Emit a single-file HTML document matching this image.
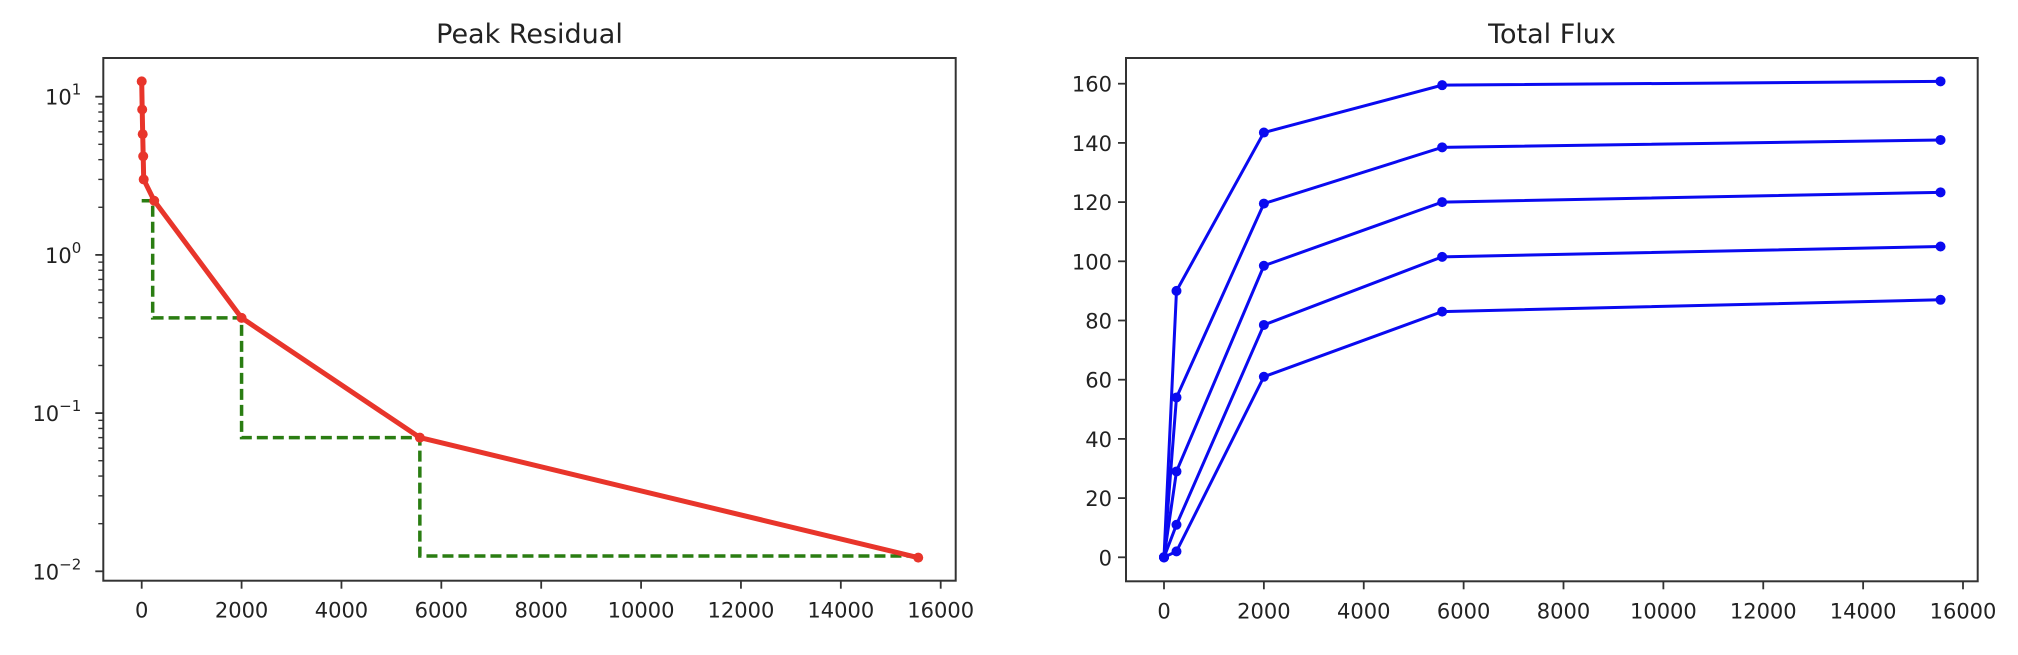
<!DOCTYPE html>
<html><head><meta charset="utf-8"><style>
body{margin:0;background:#fff;}
svg text{font-family:"DejaVu Sans","Liberation Sans",sans-serif;fill:#222;}
</style></head><body>
<svg id="chart" width="2018" height="650" xmlns="http://www.w3.org/2000/svg"></svg>
<script>
const resX=[0,10,20,30,40,250,2000,5570,15550];
const resY=[12.5,8.3,5.8,4.2,3.0,2.2,0.4,0.07,0.0122];
const stepX=[0,220,2000,5570,15550];
const stepY=[2.2,0.4,0.07,0.0125,0.0125];
const fluxX=[0,250,2000,5570,15550];
const flux1=[0,90,143.5,159.5,160.8];
const flux2=[0,54,119.5,138.5,141];
const flux3=[0,29,98.5,120,123.3];
const flux4=[0,11,78.5,101.5,105];
const flux5=[0,2,61,83,87];
const xTicks=[0,2000,4000,6000,8000,10000,12000,14000,16000];
const logTicks=[1,0,-1,-2];
const fluxTicks=[0,20,40,60,80,100,120,140,160];

const NS="http://www.w3.org/2000/svg";
const svg=document.getElementById('chart');
function mk(t,a,p){const e=document.createElementNS(NS,t);for(const k in a)e.setAttribute(k,a[k]);(p||svg).appendChild(e);return e;}

const L={l:103.3,r:955.7,t:58,b:580.7};
const lx=v=>141.7+v*((940.7-141.7)/16000);
const ly=v=>96.7-(Math.log10(v)-1)*158.2;
const R={l:1126,r:1977.7,t:58,b:581.3};
const rx=v=>1164+v*((1963-1164)/16000);
const ry=v=>557.3-v*((557.3-83.7)/160);

function frame(A,name){
  const r=mk('rect',{x:A.l,y:A.t,width:A.r-A.l,height:A.b-A.t,fill:'none',stroke:'#333','stroke-width':2});
  
  
}
function xAxis(A,fx,name){
  const g=mk('g',{});
  
  
  xTicks.forEach(v=>{
    mk('line',{x1:fx(v),x2:fx(v),y1:A.b,y2:A.b+8,stroke:'#333','stroke-width':1.8},g);
    const t=mk('text',{x:fx(v),y:A.b+37,'text-anchor':'middle','font-size':21},g);
    t.textContent=v;
  });
}
const t1=mk('text',{x:529.5,y:43,'text-anchor':'middle','font-size':27});
t1.textContent='Peak Residual';


frame(L,'peak-residual-plot-area');
xAxis(L,lx,'peak-residual-x-axis');
const gy=mk('g',{});


logTicks.forEach(p=>{
  const y=ly(Math.pow(10,p));
  mk('line',{x1:L.l-8,x2:L.l,y1:y,y2:y,stroke:'#333','stroke-width':1.8},gy);
  const t=mk('text',{x:L.l-22,y:y+8,'text-anchor':'end','font-size':21},gy);
  t.innerHTML='10<tspan dy="-10" font-size="15">'+(p<0?'\u2212'+(-p):p)+'</tspan>';
});
for(let p=-2;p<=1;p++)for(let m=2;m<=9;m++){
  const v=m*Math.pow(10,p);const y=ly(v);
  if(y<L.t||y>L.b)continue;
  mk('line',{x1:L.l-5,x2:L.l,y1:y,y2:y,stroke:'#333','stroke-width':1.4},gy);
}
const sp=mk('path',{d:stepX.map((x,i)=>i==0?'M'+lx(x)+' '+ly(stepY[i]):'L'+lx(x)+' '+ly(stepY[i-1])+'L'+lx(x)+' '+ly(stepY[i])).join(''),fill:'none',stroke:'#2a7d12','stroke-width':3.5,'stroke-dasharray':'11,5'});


const rp=mk('path',{d:resX.map((x,i)=>(i?'L':'M')+lx(x)+' '+ly(resY[i])).join(''),fill:'none',stroke:'#e8352b','stroke-width':5,'stroke-linejoin':'round'});


resX.forEach((x,i)=>{
  const c=mk('circle',{cx:lx(x),cy:ly(resY[i]),r:5,fill:'#e8352b'});
  
  
});
const t2=mk('text',{x:1552,y:43,'text-anchor':'middle','font-size':27});
t2.textContent='Total Flux';


frame(R,'total-flux-plot-area');
xAxis(R,rx,'total-flux-x-axis');
const gy2=mk('g',{});


fluxTicks.forEach(v=>{
  const y=ry(v);
  mk('line',{x1:R.l-8,x2:R.l,y1:y,y2:y,stroke:'#333','stroke-width':1.8},gy2);
  const t=mk('text',{x:R.l-14,y:y+8,'text-anchor':'end','font-size':21},gy2);
  t.textContent=v;
});
[flux1,flux2,flux3,flux4,flux5].forEach((s,k)=>{
  const p=mk('path',{d:fluxX.map((x,i)=>(i?'L':'M')+rx(x)+' '+ry(s[i])).join(''),fill:'none',stroke:'#0a0af0','stroke-width':3});
  
  
  fluxX.forEach((x,i)=>{
    const c=mk('circle',{cx:rx(x),cy:ry(s[i]),r:5,fill:'#0a0af0'});
    
    
  });
});
</script>
</body></html>
